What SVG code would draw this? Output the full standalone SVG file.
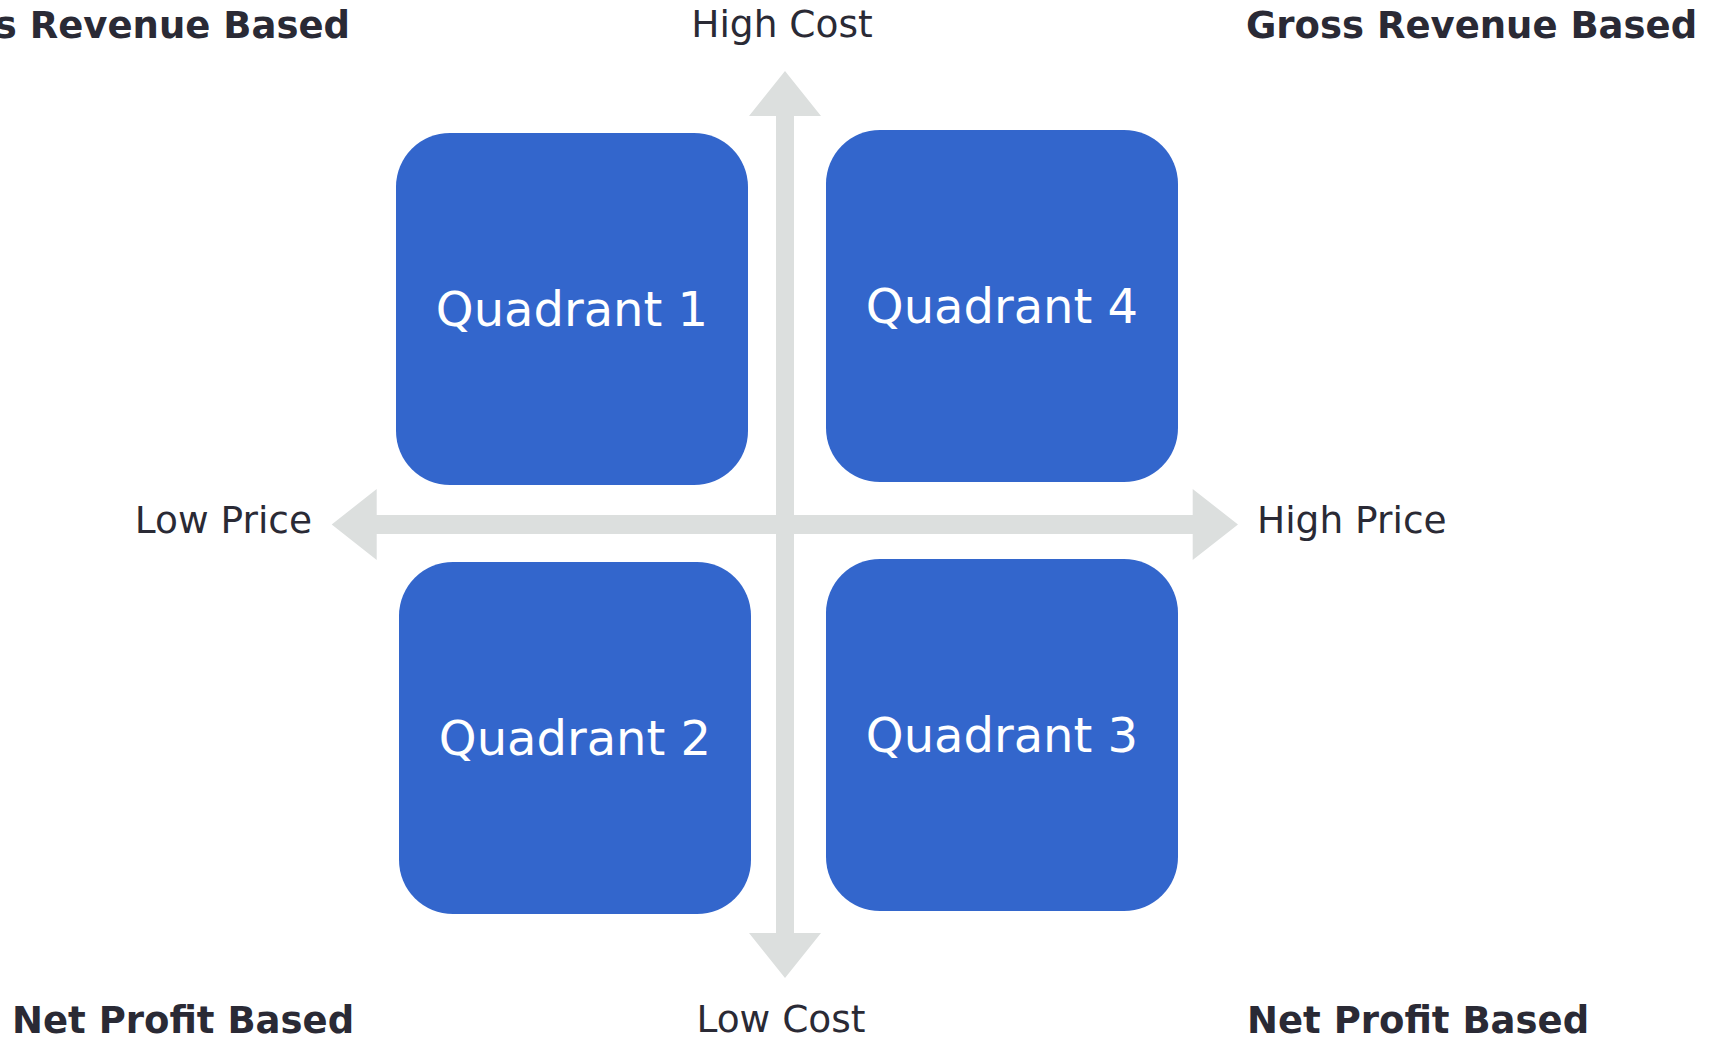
<svg xmlns="http://www.w3.org/2000/svg" width="1718" height="1037" viewBox="0 0 1718 1037">
<style>
.q{fill:#3366cc}
.qt{font-family:"DejaVu Sans","Verdana",sans-serif;font-size:48px;fill:#ffffff;text-anchor:middle}
.lbl{font-family:"DejaVu Sans","Verdana",sans-serif;font-size:37.5px;fill:#2a2a35}
.ttl{font-family:"DejaVu Sans","Verdana",sans-serif;font-size:37px;font-weight:bold;fill:#2a2a35}
.ax{fill:#dcdfde}
</style>
<rect width="1718" height="1037" fill="#ffffff"/>
<g id="connectors">
<path class="ax" d="M331.7,524.5 L376.7,489 L376.7,515 L1192.7,515 L1192.7,489 L1238,524.5 L1192.7,560 L1192.7,534 L376.7,534 L376.7,560 Z"/>
<path class="ax" d="M785,71 L821,116 L794,116 L794,933 L821,933 L785,978 L749,933 L776,933 L776,116 L749,116 Z"/>
</g>
<g id="quadrant1">
<rect class="q" x="396" y="133" width="352" height="352" rx="54" ry="54"/>
<text class="qt" x="572" y="326">Quadrant 1</text>
</g>
<g id="quadrant4">
<rect class="q" x="826" y="130" width="352" height="352" rx="54" ry="54"/>
<text class="qt" x="1002" y="323">Quadrant 4</text>
</g>
<g id="quadrant2">
<rect class="q" x="399" y="562" width="352" height="352" rx="54" ry="54"/>
<text class="qt" x="575" y="755">Quadrant 2</text>
</g>
<g id="quadrant3">
<rect class="q" x="826" y="559" width="352" height="352" rx="54" ry="54"/>
<text class="qt" x="1002" y="752">Quadrant 3</text>
</g>
<g id="labels">
<text class="lbl" x="782" y="37" text-anchor="middle">High Cost</text>
<text class="lbl" x="781" y="1032" text-anchor="middle">Low Cost</text>
<text class="lbl" x="312" y="533" text-anchor="end">Low Price</text>
<text class="lbl" x="1257" y="533">High Price</text>
<text class="ttl" x="350" y="38" text-anchor="end">Gross Revenue Based</text>
<text class="ttl" x="1246" y="38">Gross Revenue Based</text>
<text class="ttl" x="12" y="1033">Net Profit Based</text>
<text class="ttl" x="1247" y="1033">Net Profit Based</text>
</g>
</svg>
